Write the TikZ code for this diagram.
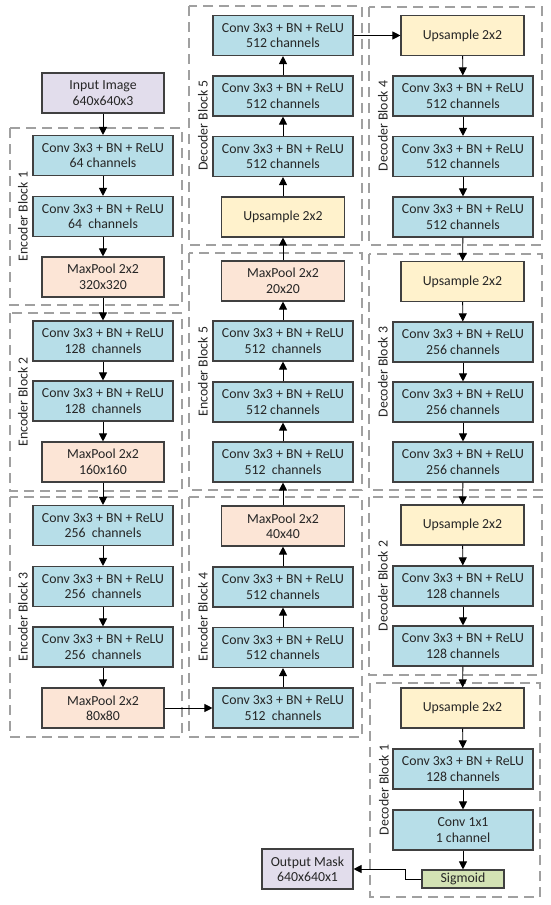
\documentclass[tikz,border=0pt]{standalone}
\usepackage{fontspec}
\setmainfont{Carlito}
\usetikzlibrary{arrows.meta}
\definecolor{convc}{HTML}{B7DEE8}
\definecolor{poolc}{HTML}{FCE5D6}
\definecolor{upc}{HTML}{FFF2CC}
\definecolor{ioc}{HTML}{E2DDEC}
\definecolor{sigc}{HTML}{D3E2B4}
\definecolor{edgec}{HTML}{404040}
\definecolor{txtc}{HTML}{262626}
\definecolor{dashc}{HTML}{A0A0A0}
\tikzset{
  blk/.style={draw=edgec, line width=1.1pt, inner sep=0pt, align=center, text=txtc,
    font=\fontsize{13.8}{15.5}\selectfont},
  conv/.style={blk, fill=convc, minimum width=140pt, minimum height=40pt},
  pool/.style={blk, fill=poolc, minimum width=122pt, minimum height=40pt},
  upb/.style={blk, fill=upc, minimum width=123pt, minimum height=40pt},
  iob/.style={blk, fill=ioc, minimum width=91pt, minimum height=40pt},
  sigb/.style={blk, fill=sigc, minimum width=82pt, minimum height=18pt},
  grp/.style={draw=dashc, line width=1.1pt, dash pattern=on 10pt off 6pt},
  glabel/.style={rotate=90, text=txtc, font=\fontsize{13.8}{15.5}\selectfont, inner sep=0pt},
  arr/.style={draw=black, line width=0.9pt, -{Triangle[length=8pt,width=8pt]}},
}
\begin{document}
\begin{tikzpicture}[x=1pt,y=-1pt]
\useasboundingbox[fill=white] (0,0) rectangle (550,905);
% dashed groups
\draw[grp] (10,128) rectangle (182,305);
\draw[grp] (10,313) rectangle (182,491);
\draw[grp] (10,497) rectangle (182,737);
\draw[grp] (189,6) rectangle (362,245);
\draw[grp] (189,253) rectangle (362,490);
\draw[grp] (189,497) rectangle (362,737);
\draw[grp] (369,7) rectangle (542,245);
\draw[grp] (369,254) rectangle (542,490);
\draw[grp] (369,497) rectangle (542,675);
\draw[grp] (370,683) rectangle (540,897);
% group labels
\node[glabel] (l1) at (23,216.5) {Encoder Block 1};
\node[glabel] (l2) at (23,402) {Encoder Block 2};
\node[glabel] (l3) at (23,617) {Encoder Block 3};
\node[glabel] (l4) at (203,617) {Encoder Block 4};
\node[glabel] (l5) at (203,371.5) {Encoder Block 5};
\node[glabel] (l6) at (203,125.5) {Decoder Block 5};
\node[glabel] (l7) at (383,126) {Decoder Block 4};
\node[glabel] (l8) at (383,372) {Decoder Block 3};
\node[glabel] (l9) at (383,586) {Decoder Block 2};
\node[glabel] (l10) at (384,790) {Decoder Block 1};
% column A
\node[iob, minimum width=122pt] (in) at (103,93) {Input Image\\640x640x3};
\node[conv] (e1a) at (103,155.5) {Conv 3x3 + BN + ReLU\\64 channels};
\node[conv] (e1b) at (103,216.5) {Conv 3x3 + BN + ReLU\\64~ channels};
\node[pool] (e1p) at (103,277) {MaxPool 2x2\\320x320};
\node[conv] (e2a) at (103,341) {Conv 3x3 + BN + ReLU\\128~ channels};
\node[conv] (e2b) at (103,401) {Conv 3x3 + BN + ReLU\\128~ channels};
\node[pool] (e2p) at (103,462) {MaxPool 2x2\\160x160};
\node[conv] (e3a) at (103,525.5) {Conv 3x3 + BN + ReLU\\256~ channels};
\node[conv] (e3b) at (103,586.5) {Conv 3x3 + BN + ReLU\\256~ channels};
\node[conv] (e3c) at (103,647) {Conv 3x3 + BN + ReLU\\256~ channels};
\node[pool] (e3p) at (103,708) {MaxPool 2x2\\80x80};
% column B
\node[conv] (d5c) at (283,35.5) {Conv 3x3 + BN + ReLU\\512 channels};
\node[conv] (d5b) at (283,96) {Conv 3x3 + BN + ReLU\\512 channels};
\node[conv] (d5a) at (283,156.5) {Conv 3x3 + BN + ReLU\\512 channels};
\node[upb] (d5u) at (283,217) {Upsample 2x2};
\node[pool, minimum width=123pt] (e5p) at (283,281) {MaxPool 2x2\\20x20};
\node[conv] (e5c) at (283,341) {Conv 3x3 + BN + ReLU\\512~ channels};
\node[conv] (e5b) at (283,402) {Conv 3x3 + BN + ReLU\\512 channels};
\node[conv] (e5a) at (283,462) {Conv 3x3 + BN + ReLU\\512~ channels};
\node[pool, minimum width=123pt] (e4p) at (283,526) {MaxPool 2x2\\40x40};
\node[conv] (e4c) at (283,587) {Conv 3x3 + BN + ReLU\\512 channels};
\node[conv] (e4b) at (283,647.5) {Conv 3x3 + BN + ReLU\\512 channels};
\node[conv] (e4a) at (283,708) {Conv 3x3 + BN + ReLU\\512~ channels};
% column C
\node[upb] (d4u) at (462.5,35.5) {Upsample 2x2};
\node[conv] (d4a) at (463,96) {Conv 3x3 + BN + ReLU\\512 channels};
\node[conv] (d4b) at (463,156.5) {Conv 3x3 + BN + ReLU\\512 channels};
\node[conv] (d4c) at (463,217) {Conv 3x3 + BN + ReLU\\512 channels};
\node[upb] (d3u) at (462.5,281.5) {Upsample 2x2};
\node[conv] (d3a) at (463,342) {Conv 3x3 + BN + ReLU\\256 channels};
\node[conv] (d3b) at (463,402) {Conv 3x3 + BN + ReLU\\256 channels};
\node[conv] (d3c) at (463,462) {Conv 3x3 + BN + ReLU\\256 channels};
\node[upb] (d2u) at (462.5,525) {Upsample 2x2};
\node[conv] (d2a) at (463,586) {Conv 3x3 + BN + ReLU\\128 channels};
\node[conv] (d2b) at (463,646) {Conv 3x3 + BN + ReLU\\128 channels};
\node[upb] (d1u) at (462.5,708) {Upsample 2x2};
\node[conv] (d1a) at (463,769) {Conv 3x3 + BN + ReLU\\128 channels};
\node[conv] (d1c) at (463,830) {Conv 1x1\\1 channel};
\node[sigb] (sig) at (463,879) {Sigmoid};
\node[iob] (out) at (307.5,869) {Output Mask\\640x640x1};
% connectors
\foreach \a/\b in {in/e1a,e1a/e1b,e1b/e1p,e1p/e2a,e2a/e2b,e2b/e2p,e2p/e3a,e3a/e3b,e3b/e3c,e3c/e3p}
  \draw[arr] (\a) -- (\b);
\draw[arr] (e3p) -- (e4a);
\foreach \a/\b in {e4a/e4b,e4b/e4c,e4c/e4p,e4p/e5a,e5a/e5b,e5b/e5c,e5c/e5p,e5p/d5u,d5u/d5a,d5a/d5b,d5b/d5c}
  \draw[arr] (\a) -- (\b);
\draw[arr] (d5c) -- (d4u);
\foreach \a/\b in {d4u/d4a,d4a/d4b,d4b/d4c,d4c/d3u,d3u/d3a,d3a/d3b,d3b/d3c,d3c/d2u,d2u/d2a,d2a/d2b,d2b/d1u,d1u/d1a,d1a/d1c,d1c/sig}
  \draw[arr] (\a) -- (\b);
\draw[arr] (sig.west) -- ++(-16,0) |- (out.east);
\end{tikzpicture}
\end{document}
